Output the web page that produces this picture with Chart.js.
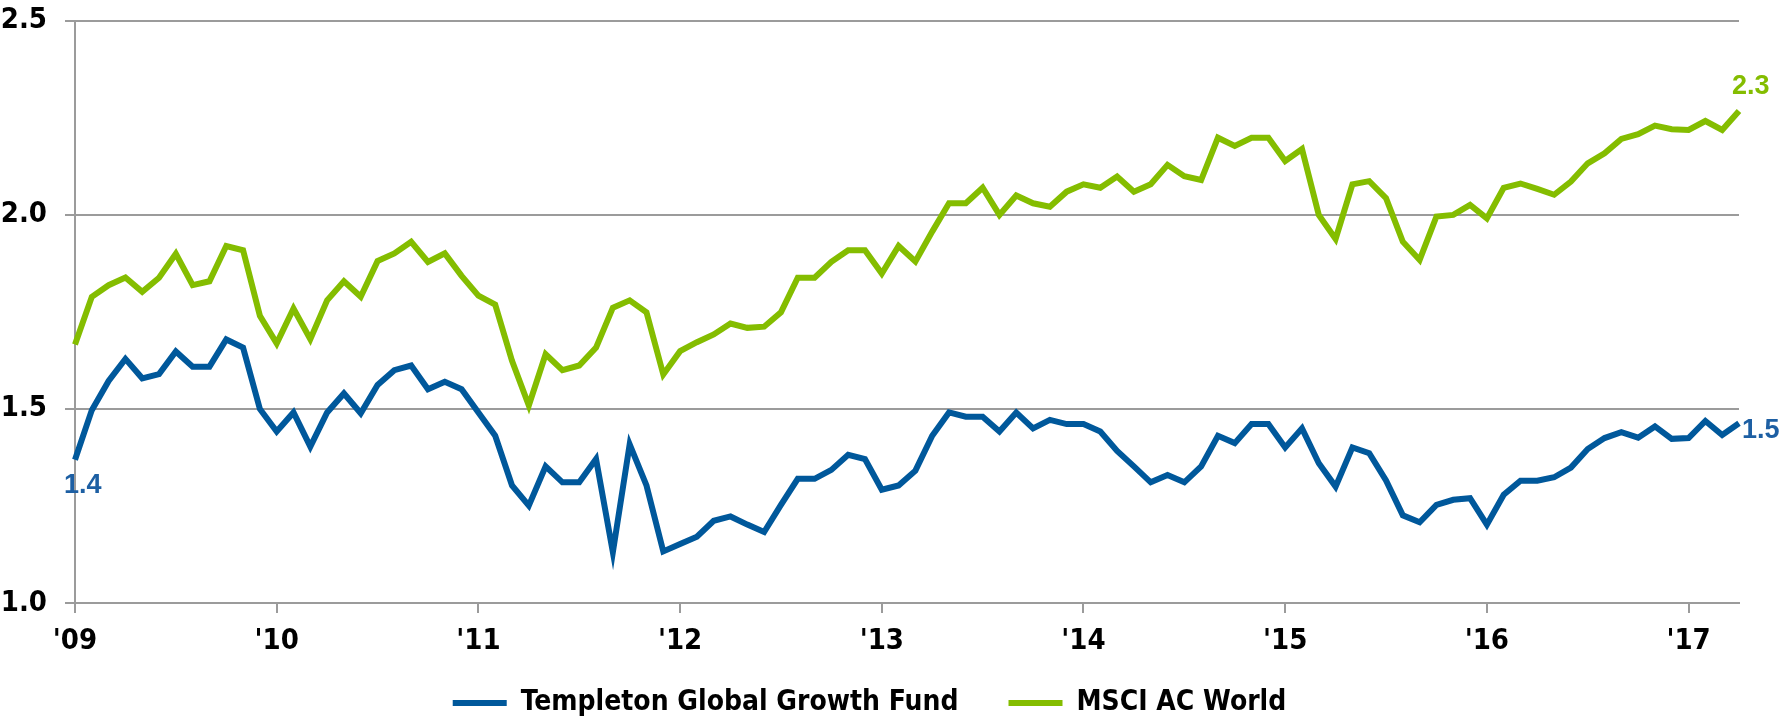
<!DOCTYPE html>
<html>
<head>
<meta charset="utf-8">
<script src="https://cdn.jsdelivr.net/npm/chart.js@4"></script>
<style>
  body { margin: 0; background: #fff; }
  #wrap { width: 1792px; height: 716px; }
</style>
</head>
<body>
<div id="wrap"><canvas id="chart" width="1792" height="716"></canvas></div>
<script>
// monthly points, Jan 2009 .. Apr 2017
const months = [];
for (let y = 2009; y <= 2017; y++) {
  for (let m = 1; m <= 12; m++) {
    if (y === 2017 && m > 4) break;
    months.push(y + '-' + String(m).padStart(2, '0'));
  }
}
const yearTicks = ["'09", "'10", "'11", "'12", "'13", "'14", "'15", "'16", "'17"];
const yTicks = [1.0, 1.5, 2.0, 2.5];

const templeton = [
  1.369, 1.497, 1.572, 1.629, 1.579, 1.590, 1.648, 1.609, 1.609, 1.679, 1.658, 1.500,
  1.442, 1.491, 1.403, 1.491, 1.540, 1.489, 1.562, 1.600, 1.612, 1.551, 1.570, 1.551,
  1.491, 1.431, 1.303, 1.251, 1.352, 1.311, 1.311, 1.371, 1.131, 1.409, 1.303, 1.133,
  1.152, 1.171, 1.212, 1.223, 1.202, 1.183, 1.253, 1.320, 1.320, 1.343, 1.382, 1.371,
  1.292, 1.303, 1.341, 1.431, 1.491, 1.480, 1.480, 1.442, 1.491, 1.450, 1.472, 1.461,
  1.461, 1.442, 1.392, 1.352, 1.311, 1.330, 1.311, 1.352, 1.431, 1.412, 1.461, 1.461,
  1.401, 1.450, 1.360, 1.300, 1.401, 1.386, 1.316, 1.226, 1.208, 1.253, 1.266, 1.270,
  1.202, 1.279, 1.315, 1.315, 1.324, 1.349, 1.397, 1.425, 1.440, 1.426, 1.455, 1.423,
  1.425, 1.469, 1.433, 1.463
];
const msci = [
  1.666, 1.789, 1.819, 1.839, 1.802, 1.838, 1.900, 1.819, 1.829, 1.920, 1.909, 1.740,
  1.669, 1.759, 1.680, 1.780, 1.829, 1.789, 1.881, 1.901, 1.931, 1.879, 1.901, 1.843,
  1.792, 1.769, 1.624, 1.509, 1.641, 1.600, 1.612, 1.658, 1.761, 1.780, 1.749, 1.589,
  1.649, 1.672, 1.692, 1.720, 1.709, 1.712, 1.749, 1.838, 1.838, 1.879, 1.909, 1.909,
  1.849, 1.920, 1.880, 1.957, 2.030, 2.030, 2.070, 2.000, 2.050, 2.030, 2.021, 2.060,
  2.079, 2.070, 2.099, 2.060, 2.079, 2.129, 2.100, 2.090, 2.199, 2.178, 2.199, 2.199,
  2.139, 2.170, 2.000, 1.938, 2.079, 2.087, 2.043, 1.931, 1.884, 1.996, 2.000, 2.026,
  1.991, 2.070, 2.081, 2.067, 2.052, 2.086, 2.133, 2.159, 2.196, 2.208, 2.230, 2.221,
  2.219, 2.242, 2.219, 2.268
];

const BLUE = '#00589b';
const GREEN = '#84bd00';
const GRID = '#9b9b9b';
const NARROW = "'Liberation Sans Narrow', 'Arial Narrow', 'DejaVu Sans Condensed', 'Liberation Sans', sans-serif";

// end-point value labels
const valueLabels = {
  id: 'valueLabels',
  afterDatasetsDraw(chart) {
    const ctx = chart.ctx;
    const blue = chart.getDatasetMeta(0).data;
    const green = chart.getDatasetMeta(1).data;
    const last = blue.length - 1;
    ctx.save();
    ctx.font = "bold 27px 'Liberation Sans', Arial, sans-serif";
    ctx.textAlign = 'left';
    ctx.textBaseline = 'middle';
    ctx.fillStyle = '#1d5fa3';
    ctx.fillText(templeton[0].toFixed(1), blue[0].x - 11, blue[0].y + 26);
    ctx.fillText(templeton[last].toFixed(1), blue[last].x + 3, blue[last].y + 7);
    ctx.fillStyle = GREEN;
    ctx.fillText(msci[last].toFixed(1), green[last].x - 7, green[last].y - 24);
    ctx.restore();
  }
};

new Chart(document.getElementById('chart'), {
  type: 'line',
  data: {
    labels: months,
    datasets: [
      { label: 'Templeton Global Growth Fund', data: templeton, borderColor: BLUE, backgroundColor: BLUE,
        borderWidth: 6, pointRadius: 0, tension: 0 },
      { label: 'MSCI AC World', data: msci, borderColor: GREEN, backgroundColor: GREEN,
        borderWidth: 6, pointRadius: 0, tension: 0 }
    ]
  },
  options: {
    responsive: false,
    animation: false,
    devicePixelRatio: 1,
    layout: { padding: { top: 2, right: 53, left: 0, bottom: -11 } },
    plugins: {
      tooltip: { enabled: false },
      legend: {
        position: 'bottom',
        labels: {
          color: '#000',
          font: { family: NARROW, size: 28, weight: 'bold' },
          boxWidth: 54,
          boxHeight: 6,
          padding: 50,
          generateLabels: (chart) =>
            Chart.defaults.plugins.legend.labels.generateLabels(chart).map(l => ({ ...l, lineWidth: 0 }))
        }
      }
    },
    scales: {
      x: {
        grid: { drawOnChartArea: false, drawTicks: true, tickLength: 10, color: GRID, lineWidth: 2 },
        border: { color: GRID, width: 2 },
        ticks: {
          autoSkip: false,
          maxRotation: 0,
          padding: 11,
          color: '#000',
          font: { family: NARROW, size: 29, weight: 'bold' },
          callback: (v, i) => (i % 12 === 0 ? yearTicks[i / 12] : null)
        },
        afterFit: (s) => {
          s.height = 36;
          s._computeLabelArea = () => undefined; // labels hang below the short axis box
        }
      },
      y: {
        min: 1.0,
        max: 2.5,
        afterBuildTicks: (s) => { s.ticks = yTicks.map(v => ({ value: v })); },
        grid: { color: GRID, lineWidth: 2, tickLength: 10 },
        border: { color: GRID, width: 2 },
        ticks: {
          padding: 18,
          color: '#000',
          font: { family: NARROW, size: 29, weight: 'bold', lineHeight: 0.2 },
          callback: (v) => v.toFixed(1)
        },
        afterFit: (s) => { s.width = 75; }
      }
    }
  },
  plugins: [valueLabels]
});
</script>
</body>
</html>
